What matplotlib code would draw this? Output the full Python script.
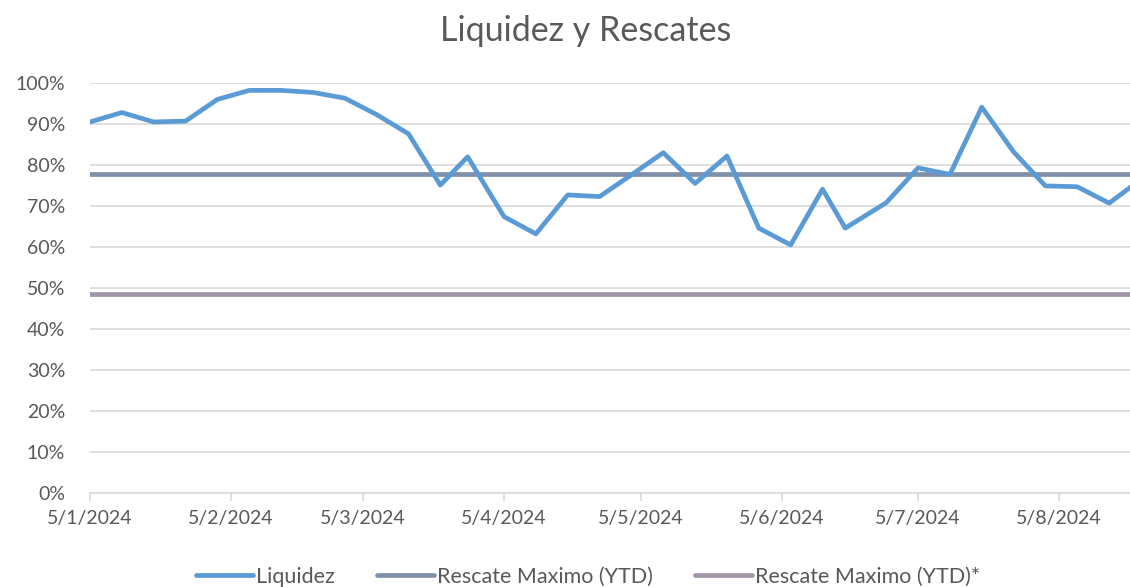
import matplotlib
matplotlib.use("Agg")
import matplotlib.pyplot as plt
import matplotlib.dates as mdates
from matplotlib.ticker import FuncFormatter, MultipleLocator
import pandas as pd

plt.rcParams['font.family'] = ['Lato', 'DejaVu Sans']

dates = pd.to_datetime([
    "2024-01-05", "2024-01-12", "2024-01-19", "2024-01-26", "2024-02-02",
    "2024-02-09", "2024-02-16", "2024-02-23", "2024-03-01", "2024-03-08",
    "2024-03-15", "2024-03-22", "2024-03-28", "2024-04-05", "2024-04-12",
    "2024-04-19", "2024-04-26", "2024-05-03", "2024-05-10", "2024-05-17",
    "2024-05-24", "2024-05-31", "2024-06-07", "2024-06-14", "2024-06-19",
    "2024-06-28", "2024-07-05", "2024-07-12", "2024-07-19", "2024-07-26",
    "2024-08-02", "2024-08-09", "2024-08-16", "2024-08-23",
])
liquidez = [
    90.5, 92.8, 90.5, 90.7, 96.0, 98.2, 98.2, 97.7, 96.3, 92.3,
    87.6, 75.1, 82.0, 67.4, 63.2, 72.7, 72.3, 77.6, 83.0, 75.5,
    82.2, 64.6, 60.5, 74.1, 64.6, 70.8, 79.3, 77.7, 94.1, 83.2,
    74.9, 74.7, 70.7, 76.5,
]
rescate_max = 77.8
rescate_max_star = 48.5

series_names = ["Liquidez", "Rescate Maximo (YTD)", "Rescate Maximo (YTD)*"]
tick_dates = pd.to_datetime(["2024-01-05", "2024-02-05", "2024-03-05", "2024-04-05",
                             "2024-05-05", "2024-06-05", "2024-07-05", "2024-08-05"])
x_start = pd.Timestamp("2024-01-05")
x_end = pd.Timestamp("2024-08-20 14:00")

grey = "#595959"
c_liq = "#5B9BD5"
c_r1 = "#8090AA"
c_r2 = "#A395A8"

fig = plt.figure(figsize=(11.30, 5.87), dpi=100)
ax = fig.add_axes([90/1130, 1-493/587, 1-90/1130, (493-83)/587])

y_liq = [v/100 for v in liquidez]
ax.plot(dates, [rescate_max/100]*len(dates), color=c_r1, lw=3.4, solid_capstyle='round',
        label=series_names[1], zorder=3)
ax.plot(dates, [rescate_max_star/100]*len(dates), color=c_r2, lw=3.4, solid_capstyle='round',
        label=series_names[2], zorder=3)
ax.plot(dates, y_liq, color=c_liq, lw=3.4, solid_joinstyle='round', solid_capstyle='round',
        label=series_names[0], zorder=4)

ax.set_xlim(x_start, x_end)
ax.set_ylim(0, 1.0)
ax.yaxis.set_major_locator(MultipleLocator(0.1))
ax.yaxis.set_major_formatter(FuncFormatter(lambda v, p: f"{v*100:.0f}%"))
ax.set_xticks(tick_dates)
ax.set_xticklabels([f"{d.day}/{d.month}/{d.year}" for d in tick_dates])

ax.grid(axis='y', color="#D9D9D9", lw=1.2, zorder=0)
for s in ["top", "right", "left"]:
    ax.spines[s].set_visible(False)
ax.spines["bottom"].set_color("#D9D9D9")
ax.spines["bottom"].set_linewidth(1.2)
ax.tick_params(axis='y', length=0, pad=18, labelsize=14, labelcolor=grey)
ax.tick_params(axis='x', length=6, width=1.2, color="#D9D9D9", pad=6, labelsize=14, labelcolor=grey)
for lbl in ax.get_yticklabels():
    lbl.set_horizontalalignment('right')

fig.text(586/1130, 1-31/587, "Liquidez y Rescates", ha='center', va='center',
         fontsize=24.5, color=grey)

h, l = ax.get_legend_handles_labels()
order = [2, 0, 1]
leg = fig.legend([h[i] for i in order], [l[i] for i in order], loc='center',
                 bbox_to_anchor=(588/1130, 1-577/587), ncol=3, frameon=False,
                 fontsize=15.5, labelcolor=grey, handlelength=2.65, handletextpad=0.14,
                 columnspacing=1.95, borderpad=0)

fig.savefig("out.png", dpi=100)
